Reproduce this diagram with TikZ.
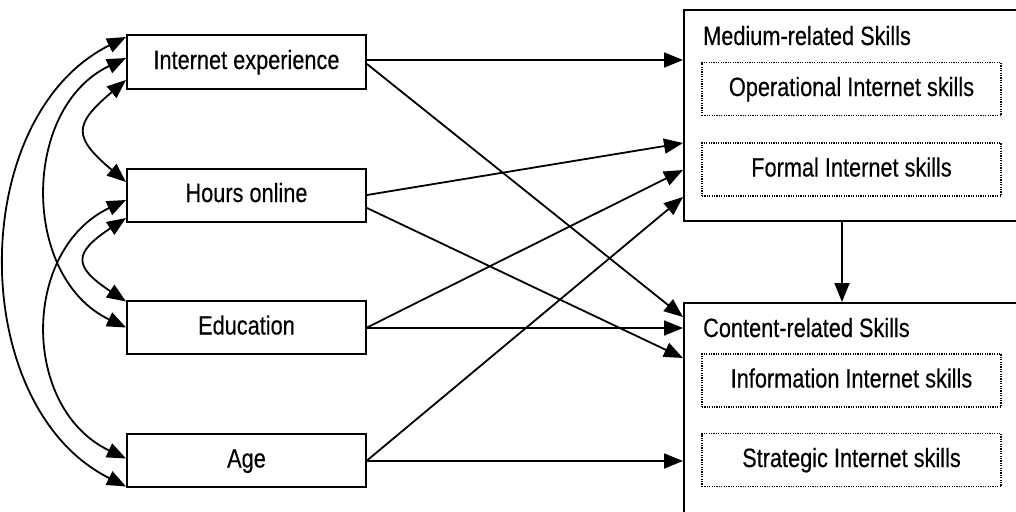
\documentclass[tikz,border=0pt]{standalone}
\usepackage{fontspec}
\setmainfont{Liberation Sans}[FakeStretch=0.82,FakeBold=0.3]
\usetikzlibrary{arrows.meta,calc}
\begin{document}
\begin{tikzpicture}[x=1pt,y=-1pt,
  font=\fontsize{26.5}{30}\selectfont,
  leftbox/.style={draw,line width=2pt,minimum width=239pt,minimum height=53pt,inner sep=0pt,text height=19pt,text depth=5pt},
  bigbox/.style={draw,line width=2pt,anchor=north west,inner sep=0pt},
  dotbox/.style={draw,line width=1.3pt,dash pattern=on 1.2pt off 1.2pt,minimum width=299pt,minimum height=53pt,inner sep=0pt,text height=19pt,text depth=5pt},
  arr/.style={line width=1.8pt,-{Triangle[length=19pt,width=15pt]}},
  biarr/.style={line width=1.8pt,{Triangle[length=19pt,width=15pt]}-{Triangle[length=19pt,width=15pt]}}]
\useasboundingbox (0,0) rectangle (1016,511);
% left boxes
\node[leftbox] (ie) at (246.5,62) {Internet experience};
\node[leftbox] (ho) at (246.5,195) {Hours online};
\node[leftbox] (ed) at (246.5,327.5) {Education};
\node[leftbox] (age) at (246.5,460.5) {Age};
% right boxes
\node[bigbox,minimum width=347pt,minimum height=211pt] (med) at (683,9) {};
\node[bigbox,minimum width=347pt,minimum height=230pt] (con) at (683,302) {};
\node[anchor=base west,inner sep=0pt] (medl) at (703,45) {Medium-related Skills};
\node[anchor=base west,inner sep=0pt] (conl) at (703,337) {Content-related Skills};
\node[dotbox] (op) at (851.5,89) {Operational Internet skills};
\node[dotbox] (fo) at (851.5,169.5) {Formal Internet skills};
\node[dotbox] (inf) at (851.5,380.5) {Information Internet skills};
\node[dotbox] (st) at (851.5,460) {Strategic Internet skills};
% medium -> content
\draw[arr] ([xshift=159pt]med.south west) -- ([xshift=159pt]med.south west |- con.north);
% straight paths
\draw[arr] ([yshift=2pt]ie.east) -- ([yshift=2pt]ie.east -| med.west);
\draw[arr] ([yshift=-2pt]ie.east) -- ($(con.north west)+(0,15)$);
\draw[arr] (ho.east) -- ($(med.north west)+(0,134)$);
\draw[arr] ([yshift=-13pt]ho.east) -- ($(con.north west)+(0,56)$);
\draw[arr] (ed.east) -- ($(med.north west)+(0,161)$);
\draw[arr] ([yshift=-0.5pt]ed.east) -- ([yshift=-0.5pt]ed.east -| con.west);
\draw[arr] (age.east) -- ($(med.north west)+(0,188)$);
\draw[arr] ([yshift=-0.5pt]age.east) -- ([yshift=-0.5pt]age.east -| con.west);
% correlations
\coordinate (a1) at ([yshift=-18pt]ie.west);
\coordinate (b1) at ([yshift=13pt]ho.west);
\coordinate (a2) at ([yshift=-23pt]ho.west);
\coordinate (b2) at ([yshift=26pt]ed.west);
\coordinate (a3) at ([yshift=4pt]ie.west);
\coordinate (b3) at (ed.west);
\coordinate (a4) at ([yshift=25pt]ie.west);
\coordinate (b4) at ([yshift=-26pt]age.west);
\coordinate (a5) at ([yshift=-5pt]ho.west);
\coordinate (b5) at ([yshift=2pt]age.west);
\draw[biarr] (a1) .. controls ($(a1)+(-53,45)$) and ($(b1)+(-53,-45)$) .. (b1);
\draw[biarr] (a2) .. controls ($(a2)+(-53,35)$) and ($(b2)+(-53,-35)$) .. (b2);
\draw[biarr] (a3) .. controls ($(a3)+(-105,50)$) and ($(b3)+(-105,-50)$) .. (b3);
\draw[biarr] (a4) .. controls ($(a4)+(-160,80)$) and ($(b4)+(-160,-80)$) .. (b4);
\draw[biarr] (a5) .. controls ($(a5)+(-105,50)$) and ($(b5)+(-105,-50)$) .. (b5);
\end{tikzpicture}
\end{document}
